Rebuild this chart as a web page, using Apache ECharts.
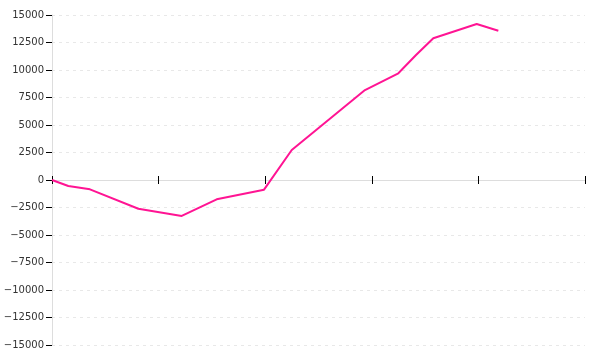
<!DOCTYPE html>
<html><head><meta charset="utf-8">
<script src="https://cdn.jsdelivr.net/npm/echarts@6/dist/echarts.min.js"></script>
<style>html,body{margin:0;padding:0;background:#fff}#c{width:600px;height:360px}</style>
</head><body><div id="c"></div>
<script>
const xValues = [0, 0.153, 0.356, 0.81, 1.217, 1.545, 1.989, 2.249, 2.936, 3.249, 3.415, 3.577, 3.984, 4.187];
const yValues = [0, -545, -850, -2610, -3270, -1755, -880, 2730, 8180, 9700, 11360, 12880, 14180, 13570];
const yTicks = [-15000, -12500, -10000, -7500, -5000, -2500, 0, 2500, 5000, 7500, 10000, 12500, 15000];

const chart = echarts.init(document.getElementById('c'), null, {renderer: 'canvas'});
const gridBox = {left: 52, right: 15, top: 15, bottom: 15, containLabel: false};
const xCommon = {
  type: 'value', min: 0, max: 5, interval: 1,
  axisLine: {onZero: true, lineStyle: {color: '#dddddd', width: 1}},
  axisLabel: {show: false},
  splitLine: {show: false}
};
const yMin = yTicks[0], yMax = yTicks[yTicks.length - 1];
chart.setOption({
  animation: false,
  grid: [Object.assign({}, gridBox), Object.assign({}, gridBox)],
  xAxis: [
    Object.assign({}, xCommon, {gridIndex: 0, axisTick: {show: true, inside: false, length: 4, lineStyle: {color: '#000', width: 1}}}),
    Object.assign({}, xCommon, {gridIndex: 1, axisTick: {show: true, inside: true, length: 4, lineStyle: {color: '#000', width: 1}}})
  ],
  yAxis: [{
    gridIndex: 0,
    type: 'value', min: yMin, max: yMax, interval: 2500,
    axisLine: {show: true, lineStyle: {color: '#dddddd', width: 1}},
    axisTick: {show: true, length: 6, lineStyle: {color: '#000', width: 1}},
    axisLabel: {
      color: '#333', fontFamily: 'DejaVu Sans', fontSize: 10, margin: 8,
      formatter: v => String(v).replace('-', '\u2212')
    },
    splitLine: {show: true, lineStyle: {color: '#e8e8e8', type: [3, 4], width: 1}}
  }, {
    gridIndex: 1,
    type: 'value', min: yMin, max: yMax, interval: 2500,
    axisLine: {show: false}, axisTick: {show: false}, axisLabel: {show: false}, splitLine: {show: false}
  }],
  series: [{
    type: 'line',
    xAxisIndex: 0, yAxisIndex: 0,
    data: xValues.map((x, i) => [x, yValues[i]]),
    showSymbol: false,
    lineStyle: {color: '#ff1493', width: 2},
    itemStyle: {color: '#ff1493'}
  }]
});
</script></body></html>
